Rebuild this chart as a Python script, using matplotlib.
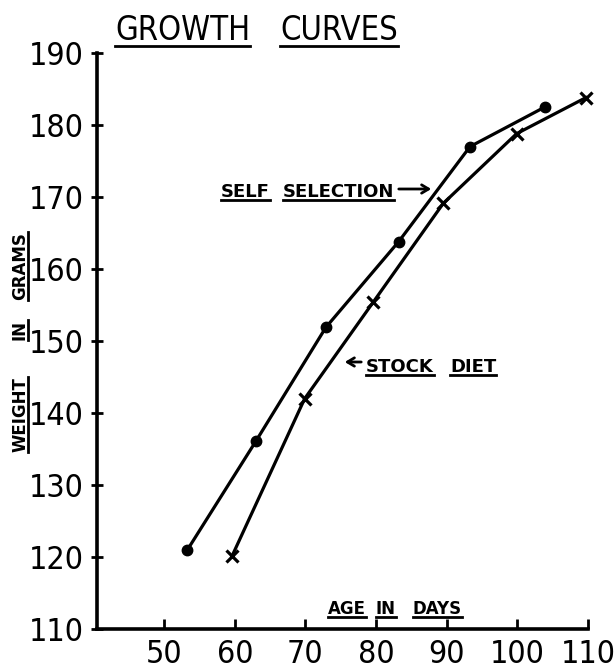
import matplotlib.pyplot as plt
from matplotlib.lines import Line2D

# =========================
# Datos
# =========================
age_self = [53.3, 63.0, 72.9, 83.2, 93.3, 103.9]
wt_self = [121.0, 136.1, 151.9, 163.8, 177.0, 182.5]

age_stock = [59.6, 69.9, 79.6, 89.5, 99.9, 109.7]
wt_stock = [120.1, 142.0, 155.4, 169.1, 178.8, 183.8]

x_ticks = [50, 60, 70, 80, 90, 100, 110]
y_ticks = [110, 120, 130, 140, 150, 160, 170, 180, 190]

# =========================
# Figura
# =========================
W, H = 615, 671
fig = plt.figure(figsize=(W / 100, H / 100), dpi=100)
ax = fig.add_axes([97 / W, 1 - 629 / H, (588 - 97) / W, (629 - 53) / H])


def px(x, y):
    # pixeles (origen arriba-izquierda) -> fraccion de figura
    return x / W, 1 - y / H


ax.plot(age_self, wt_self, color='black', lw=2.3, marker='o', ms=7.5,
        clip_on=False)
ax.plot(age_stock, wt_stock, color='black', lw=2.3, marker='x', ms=8,
        mew=2.3, clip_on=False)

ax.set_xlim(40.5, 110)
ax.set_ylim(110, 190)
ax.set_xticks(x_ticks)
ax.set_yticks(y_ticks)
ax.set_xticklabels([str(v) for v in x_ticks], fontstretch='condensed')
ax.set_yticklabels([str(v) for v in y_ticks], fontstretch='condensed')

for s in ['top', 'right']:
    ax.spines[s].set_visible(False)
for s in ['left', 'bottom']:
    ax.spines[s].set_linewidth(2.6)

ax.tick_params(axis='x', direction='in', length=7, width=2, pad=7,
               labelsize=23)
ax.tick_params(axis='y', direction='inout', length=9, width=2, pad=5,
               labelsize=23)

# =========================
# Textos subrayados
# =========================
under_h = []
under_v = []

for word, x, y in [('GROWTH', 115, 40), ('CURVES', 280, 40)]:
    under_h.append(fig.text(*px(x, y), word, fontsize=23.5, ha='left',
                            va='baseline', fontstretch='condensed'))

labels = [('SELF', 221, 197, 13), ('SELECTION', 283, 197, 13),
          ('STOCK', 366, 372, 13), ('DIET', 450, 372, 13),
          ('AGE', 328, 614, 12), ('IN', 376, 614, 12), ('DAYS', 413, 614, 12)]
for word, x, y, fs in labels:
    under_h.append(fig.text(*px(x, y), word, fontsize=fs, ha='left',
                            va='baseline', fontweight='bold'))

for word, x, y in [('WEIGHT', 11, 452), ('IN', 11, 340), ('GRAMS', 11, 300)]:
    under_v.append(fig.text(*px(x, y), word, fontsize=12, ha='left',
                            va='bottom', rotation=90, fontweight='bold'))

# flechas
ax.annotate('', xy=px(434, 189), xytext=px(396, 189),
            xycoords='figure fraction', textcoords='figure fraction',
            arrowprops=dict(arrowstyle='->,head_length=0.5,head_width=0.3',
                            lw=2, color='black'))
ax.annotate('', xy=px(342, 362), xytext=px(364, 362),
            xycoords='figure fraction', textcoords='figure fraction',
            arrowprops=dict(arrowstyle='->,head_length=0.5,head_width=0.3',
                            lw=2, color='black'))

fig.canvas.draw()
r = fig.canvas.get_renderer()
for t in under_h:
    bb = t.get_window_extent(r)
    y = bb.y0 + 1
    fig.add_artist(Line2D([bb.x0 / W, bb.x1 / W], [y / H, y / H],
                          transform=fig.transFigure, color='black', lw=2))
for t in under_v:
    bb = t.get_window_extent(r)
    x = bb.x1 - 1
    fig.add_artist(Line2D([x / W, x / W], [bb.y0 / H, bb.y1 / H],
                          transform=fig.transFigure, color='black', lw=2))

fig.savefig('out.png', dpi=100)
